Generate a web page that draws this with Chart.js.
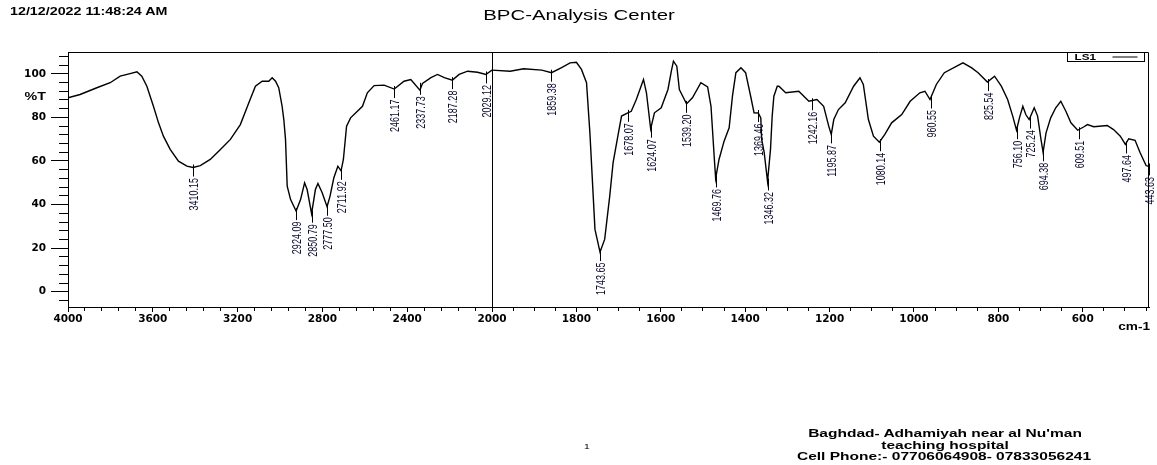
<!DOCTYPE html>
<html>
<head>
<meta charset="utf-8">
<script src="https://cdn.jsdelivr.net/npm/chart.js@4.4.0/dist/chart.umd.min.js"></script>
<style>
html,body{margin:0;padding:0;background:#fff;}
#wrap{position:relative;width:1157px;height:465px;overflow:hidden;background:#fff;}
#c{position:absolute;left:0;top:0;}
.t{position:absolute;white-space:nowrap;font-family:"Liberation Sans",Arial,sans-serif;color:#000;line-height:1;}
.ctr{transform-origin:50% 50%;}
</style>
</head>
<body>
<div id="wrap">
<canvas id="c" width="1157" height="465"></canvas>
<div class="t" id="date" style="left:10px;top:6px;font-size:10.5px;font-weight:bold;transform-origin:0 0;transform:scaleX(1.36);">12/12/2022 11:48:24 AM</div>
<div class="t ctr" id="title" style="left:579px;top:14px;font-size:15px;transform:translate(-50%,-50%) scaleX(1.36);">BPC-Analysis Center</div>
<div class="t" id="ylab" style="left:46px;top:96px;font-size:10.5px;font-weight:bold;transform-origin:100% 50%;transform:translate(-100%,-50%) scaleX(1.36);">%T</div>
<div class="t" id="xlab" style="left:1150px;top:327px;font-size:10px;font-weight:bold;transform-origin:100% 50%;transform:translate(-100%,-50%) scaleX(1.36);">cm-1</div>
<div class="t ctr" style="left:587px;top:447px;font-size:8px;transform:translate(-50%,-50%) scaleX(1.3);">1</div>
<div class="t ctr" style="left:945px;top:433px;font-size:11px;font-weight:bold;transform:translate(-50%,-50%) scaleX(1.41);">Baghdad- Adhamiyah near al Nu'man</div>
<div class="t ctr" style="left:945px;top:445px;font-size:11px;font-weight:bold;transform:translate(-50%,-50%) scaleX(1.41);">teaching hospital</div>
<div class="t ctr" style="left:944px;top:456px;font-size:11px;font-weight:bold;transform:translate(-50%,-50%) scaleX(1.41);">Cell Phone:- 07706064908- 07833056241</div>
</div>
<script>
// ---- spectrum (wavenumber cm-1, %T) ----
const wavenumbers = [
 4000,3943,3864,3801,3754,3707,3675,3652,3628,3597,3573,3550,3518,3479,3439,3410,3376,3329,3281,3234,
 3187,3147,3116,3084,3053,3037,3021,3006,2990,2982,2974,2966,2950,2924,2903,2884,2872,2851,2833,2821,
 2801,2778,2764,2746,2727,2712,2701,2686,2667,2635,2611,2588,2556,2509,2461,2415,2383,2340,2328,2288,
 2257,2225,2187,2155,2115,2068,2029,2000,
 1957,1925,1882,1859,1835,1815,1800,1788,1776,1768,1756,1744,1733,1721,1713,1701,1693,1678,1670,1658,
 1641,1634,1624,1615,1599,1583,1575,1570,1562,1556,1548,1539,1525,1505,1489,1481,1473,1470,1462,1450,
 1438,1430,1422,1410,1399,1387,1379,1369,1363,1361,1355,1347,1340,1336,1332,1324,1320,1304,1273,1249,
 1230,1214,1202,1196,1190,1179,1163,1143,1128,1120,1108,1096,1082,1069,1053,1029,1009,986,974,962,
 947,928,884,864,848,826,809,793,778,766,757,750,742,735,727,715,707,699,694,687,
 676,664,652,640,628,612,597,589,574,542,527,511,499,491,476,464,450,444
];
const transmittance = [
 89.0,90.5,93.6,95.9,98.9,100.1,100.9,98.9,94.3,85.1,77.5,71.4,65.3,59.9,57.6,57.0,57.9,60.7,65.3,69.9,
 76.7,86.7,94.3,96.6,96.6,98.2,96.6,93.6,85.1,79.0,69.9,48.4,42.3,37.0,42.3,50.0,46.9,35.8,46.9,49.7,
 45.4,39.0,43.9,52.3,57.6,55.5,60.7,76.0,79.8,82.8,85.1,91.3,94.6,94.8,93.0,96.6,97.4,92.5,95.6,98.2,
 99.7,98.2,97.1,99.7,101.2,100.7,99.7,101.7,
 101.2,102.3,101.7,100.5,102.8,105.0,105.3,102.0,95.9,72.9,28.6,18.2,24.0,43.9,59.2,72.2,80.6,82.1,82.8,88.2,
 97.4,91.3,74.8,82.1,84.4,92.8,101.2,105.8,103.5,92.8,89.7,86.2,89.0,95.9,94.0,85.1,60.7,52.0,60.7,69.1,
 75.2,90.0,100.5,102.8,100.5,89.7,82.1,82.0,79.8,70.0,64.0,50.6,65.3,80.6,89.7,94.3,94.3,91.3,92.0,87.4,
 88.2,85.1,76.0,72.2,79.0,83.6,86.7,94.3,98.2,95.1,79.0,71.4,68.6,72.2,77.5,81.3,87.4,91.3,92.0,88.2,
 95.1,100.5,105.0,102.8,100.5,96.2,98.9,94.3,88.2,80.6,74.1,79.8,85.1,81.3,79.0,84.4,80.6,69.9,64.0,72.9,
 79.8,84.4,87.4,82.8,77.5,74.1,75.7,76.7,75.7,76.3,74.4,71.4,67.6,70.2,69.5,63.8,57.9,57.5
];
// ---- labelled peaks ----
const peakWavenumbers = [3410.15,2924.09,2850.79,2777.50,2711.92,2461.17,2337.73,2187.28,2029.12,1859.38,
 1743.65,1678.07,1624.07,1539.20,1469.76,1369.46,1346.32,1242.16,1195.87,1080.14,960.55,825.54,
 756.10,725.24,694.38,609.51,497.64,443.63];
const peakTransmittance = [57.0,37.0,35.8,39.0,55.5,93.0,94.5,97.1,99.7,100.5,
 18.2,82.1,74.8,86.2,52.0,82.0,50.6,87.4,72.2,68.6,88.2,96.2,
 74.1,79.0,64.0,74.1,67.6,57.5];
// ---- tick labels ----
const leftTickLabels = [4000,3600,3200,2800,2400,2000];
const rightTickLabels = [1800,1600,1400,1200,1000,800,600];
const yTickLabels = [0,20,40,60,80,100];
const legendLabel = 'LS1';

const leftPts = [], rightPts = [];
wavenumbers.forEach((w, i) => {
  const p = {x: w, y: transmittance[i]};
  if (w >= 2000) leftPts.push(p);
  if (w <= 2000) rightPts.push(p);
});

const tickFont = {family: '"DejaVu Sans", Verdana, sans-serif', weight: 'bold', size: 10.5};

const decor = {
  id: 'decor',
  afterDatasetsDraw(chart) {
    const c = chart.ctx, a = chart.chartArea;
    const ys = chart.scales.y, xL = chart.scales.xL, xR = chart.scales.xR;
    c.save();
    c.strokeStyle = '#000';
    c.lineWidth = 1;
    c.setLineDash([]);
    // frame top & right
    c.beginPath();
    c.moveTo(a.left, Math.round(a.top) + 0.5);
    c.lineTo(Math.round(a.right) - 0.5, Math.round(a.top) + 0.5);
    c.lineTo(Math.round(a.right) - 0.5, a.bottom);
    c.stroke();
    // scale break line at 2000
    const sx = Math.round(xR.getPixelForValue(2000)) + 0.5;
    c.beginPath(); c.moveTo(sx, a.top); c.lineTo(sx, a.bottom); c.stroke();
    // peak labels
    peakWavenumbers.forEach((w, i) => {
      const sc = w >= 2000 ? xL : xR;
      const px = Math.round(sc.getPixelForValue(w)) + 0.5;
      const py = ys.getPixelForValue(peakTransmittance[i]);
      c.beginPath(); c.moveTo(px, py - 3); c.lineTo(px, py + 9); c.stroke();
      c.save();
      c.translate(px, py + 10.5);
      c.rotate(-Math.PI / 2);
      c.scale(1, 1.5);
      c.font = '9px "Liberation Sans", Arial, sans-serif';
      c.textAlign = 'right';
      c.textBaseline = 'middle';
      c.fillStyle = '#0c0c30';
      c.fillText(w.toFixed(2), 0, 0.5);
      c.restore();
    });
    // legend box
    const lx = Math.round(a.right) - 81.5, ly = Math.round(a.top) + 0.5;
    c.strokeRect(lx, ly, 77, 9);
    c.save();
    c.translate(lx + 7, ly + 5);
    c.scale(1.3, 1);
    c.font = 'bold 9px "Liberation Sans", Arial, sans-serif';
    c.fillStyle = '#000';
    c.textBaseline = 'middle';
    c.fillText(legendLabel, 0, 0);
    c.restore();
    c.beginPath(); c.moveTo(lx + 45, ly + 4.5); c.lineTo(lx + 70, ly + 4.5); c.stroke();
    c.restore();
  }
};

new Chart(document.getElementById('c'), {
  type: 'line',
  data: {
    datasets: [
      {data: leftPts, xAxisID: 'xL', yAxisID: 'y', borderColor: '#000', borderWidth: 1.4, pointRadius: 0, tension: 0, fill: false},
      {data: rightPts, xAxisID: 'xR', yAxisID: 'y', borderColor: '#000', borderWidth: 1.4, pointRadius: 0, tension: 0, fill: false}
    ]
  },
  options: {
    responsive: false,
    animation: false,
    events: [],
    layout: {padding: {left: 0, top: 52, right: 8, bottom: 128}},
    plugins: {legend: {display: false}, tooltip: {enabled: false}, title: {display: false}},
    scales: {
      xL: {
        type: 'linear', position: 'bottom', stack: 'x', stackWeight: 424,
        min: 2000, max: 4000, reverse: true,
        border: {display: true, color: '#000', width: 1},
        grid: {drawOnChartArea: false, drawTicks: true, tickLength: 5, tickColor: '#000', tickWidth: 1,
               tickBorderDash: (ctx) => (ctx.tick && leftTickLabels.includes(ctx.tick.value)) ? [] : [3, 20]},
        ticks: {stepSize: 80, autoSkip: false, maxRotation: 0, minRotation: 0, includeBounds: false, padding: 1,
                color: '#000', font: tickFont,
                callback: (v) => leftTickLabels.includes(v) ? String(v) : ''},
        afterFit: (s) => { s.height = 30; s.paddingLeft = 0; s.paddingRight = 0; }
      },
      xR: {
        type: 'linear', position: 'bottom', stack: 'x', stackWeight: 657,
        min: 443, max: 2000, reverse: true,
        border: {display: true, color: '#000', width: 1},
        grid: {drawOnChartArea: false, drawTicks: true, tickLength: 5, tickColor: '#000', tickWidth: 1,
               tickBorderDash: (ctx) => (ctx.tick && rightTickLabels.includes(ctx.tick.value)) ? [] : [3, 20]},
        ticks: {stepSize: 50, autoSkip: false, maxRotation: 0, minRotation: 0, includeBounds: false, padding: 1,
                color: '#000', font: tickFont,
                callback: (v) => rightTickLabels.includes(v) ? String(v) : ''},
        afterFit: (s) => { s.height = 30; s.paddingLeft = 0; s.paddingRight = 0; }
      },
      y: {
        type: 'linear', position: 'left',
        min: -7, max: 110,
        border: {display: true, color: '#000', width: 1},
        grid: {drawOnChartArea: false, drawTicks: true, tickLength: 17, tickColor: '#000', tickWidth: 1,
               tickBorderDash: (ctx) => (ctx.tick && yTickLabels.includes(ctx.tick.value)) ? [] : [0, 8, 9, 50]},
        ticks: {stepSize: 4, autoSkip: false, includeBounds: false, padding: 5, color: '#000', font: tickFont,
                callback: (v) => yTickLabels.includes(v) ? String(v) : ''},
        afterFit: (s) => { s.width = 68; s.paddingTop = 0; s.paddingBottom = 0; }
      }
    }
  },
  plugins: [decor]
});
</script>
</body>
</html>
